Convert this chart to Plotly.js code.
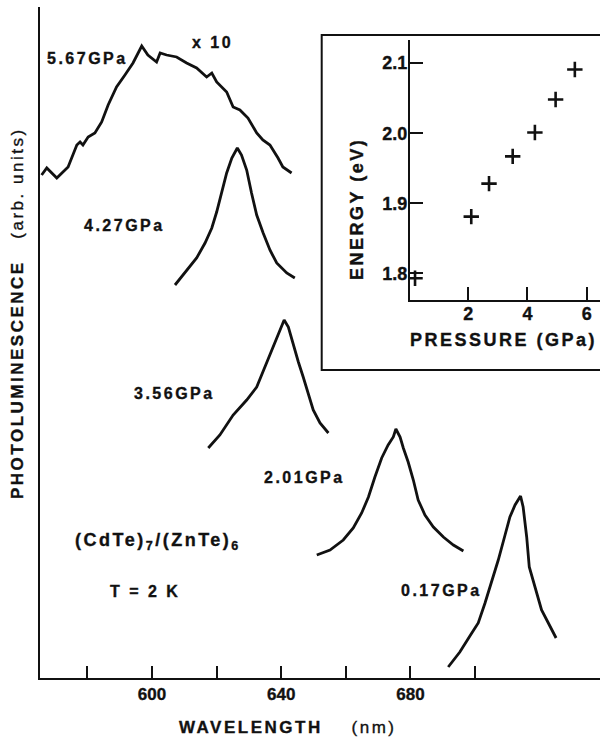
<!DOCTYPE html>
<html>
<head>
<meta charset="utf-8">
<script src="https://cdn.plot.ly/plotly-3.0.1.min.js"></script>
<style>
  body { margin: 0; padding: 0; background: #fff; }
  #chart { width: 600px; height: 742px; }
  .annotation-text { letter-spacing: 2.5px; stroke: #111; stroke-width: 0.35px; }
  .xtick text, .x2tick text, .y2tick text { stroke: #111; stroke-width: 0.35px; }
</style>
</head>
<body>
<div id="chart"></div>
<script>
// ---- Main spectra (wavelength in nm, photoluminescence in arb. units) ----
const wl567 = [565.8,567.4,570.5,572.4,574.0,576.7,577.7,578.6,580.2,582.3,584.4,586.4,589.0,591.6,594.1,596.8,598.7,601.4,602.5,604.5,607.6,610.7,613.8,616.9,618.5,620.0,623.1,625.1,627.2,629.7,632.4,634.3,636.5,639.0,640.5,643.2];
const pl567 = [503,510,500,506,511,533,536,533,541,545,556,573,591,603,615,632,623,616,625,623,621,615,610,601,605,596,586,571,568,560,545,538,533,520,511,505];

const wl427 = [607.1,610.2,613.8,616.4,618.5,620.0,621.6,623.1,624.7,626.4,627.7,629.3,630.8,632.4,634.4,636.5,638.6,641.7,644.2];
const pl427 = [393,405,420,435,450,466,485,505,520,530,523,508,485,463,445,428,415,405,400];

const wl356 = [617.4,621.0,625.1,629.3,632.4,633.9,636.0,638.1,639.6,640.9,642.2,643.7,645.3,646.8,648.4,649.9,652.0,654.6];
const pl356 = [230,243,263,278,291,303,318,335,348,358,351,333,316,301,285,268,255,245];

const wl201 = [651.0,655.1,659.2,662.3,664.9,667.0,669.0,671.1,673.1,674.7,675.5,676.8,677.8,679.3,680.9,682.4,684.5,687.1,690.2,693.3,696.4];
const pl201 = [123,128,138,150,165,181,201,220,233,241,249,241,230,216,198,178,163,151,141,133,127];

const wl017 = [691.7,695.3,699.0,701.0,703.1,705.1,707.2,709.3,710.8,712.4,714.1,714.9,716.0,716.8,718.5,720.6,722.7,725.1];
const pl017 = [11,26,45,55,75,95,118,143,161,173,182,171,141,111,91,68,55,40];

// ---- Inset: peak energy vs pressure ----
const pressure = [0.2, 2.1, 2.7, 3.5, 4.25, 4.95, 5.6];
const energy   = [1.793, 1.881, 1.928, 1.967, 2.001, 2.048, 2.091];

// ---- Tick labels ----
const xTickVals = [600, 640, 680];
const xTickText = ['600', '640', '680'];
const xMinorVals = [580, 620, 660, 700];
const insetXTickVals = [2, 4, 6];
const insetXTickText = ['2', '4', '6'];
const insetYTickVals = [1.8, 1.9, 2.0, 2.1];
const insetYTickText = ['1.8', '1.9', '2.0', '2.1'];

// ---- Text labels ----
const pressureLabels = ['5.67GPa', '4.27GPa', '3.56GPa', '2.01GPa', '0.17GPa'];

const FONT = 'Liberation Sans, Arial, Helvetica, sans-serif';
const INK = '#111';

// helpers to place text in paper coords from the figure frame (plot area: x 40..600, y 7..678)
const PX = x => (x - 40) / 560;
const PY = y => (678 - y) / 671;

const lineStyle = { color: INK, width: 2.8, shape: 'linear' };
function spectrum(x, y) {
  return { x: x, y: y, type: 'scatter', mode: 'lines', line: lineStyle, hoverinfo: 'skip', xaxis: 'x', yaxis: 'y' };
}

const traces = [
  spectrum(wl567, pl567),
  spectrum(wl427, pl427),
  spectrum(wl356, pl356),
  spectrum(wl201, pl201),
  spectrum(wl017, pl017),
  {
    x: pressure, y: energy, type: 'scatter', mode: 'markers',
    marker: { symbol: 'cross-thin', size: 11, line: { color: INK, width: 2.6 } },
    xaxis: 'x2', yaxis: 'y2', hoverinfo: 'skip'
  }
];

const boldFont = (s) => ({ family: FONT, size: s, color: INK, weight: 700 });

function ann(text, x, y, xanchor, size, extra) {
  return Object.assign({
    text: text, xref: 'paper', yref: 'paper', x: PX(x), y: PY(y),
    xanchor: xanchor, yanchor: 'middle', showarrow: false, font: boldFont(size)
  }, extra || {});
}

const annotations = [
  ann(pressureLabels[0], 45, 59, 'left', 16),
  ann('x 10', 190, 42.5, 'left', 16),
  ann(pressureLabels[1], 81.7, 225.7, 'left', 16),
  ann(pressureLabels[2], 217, 393, 'right', 16),
  ann(pressureLabels[3], 261.7, 478, 'left', 16),
  ann(pressureLabels[4], 399, 590, 'left', 16),
  ann('(CdTe)<sub>7</sub>/(ZnTe)<sub>6</sub>', 73, 541, 'left', 18, { font: { family: FONT, size: 18, color: INK, weight: 600 } }),
  ann('T = 2 K', 108, 591, 'left', 16),
  // main axis titles
  ann('<b>WAVELENGTH</b>\u00a0\u00a0\u00a0\u00a0(nm)', 177, 727, 'left', 17, { font: { family: FONT, size: 17, color: INK, weight: 400 } }),
  ann('<b>PHOTOLUMINESCENCE</b>\u00a0\u00a0\u00a0(arb. units)', 17, 313, 'center', 17, { textangle: -90, xanchor: 'center', font: { family: FONT, size: 17, color: INK, weight: 400 } }),
  // inset axis titles
  ann('ENERGY (eV)', 357, 209, 'center', 18, { textangle: -90 }),
  ann('PRESSURE (GPa)', 503, 340, 'center', 18)
];

const layout = {
  width: 600, height: 742,
  margin: { l: 40, r: 0, t: 7, b: 64 },
  paper_bgcolor: '#fff', plot_bgcolor: 'rgba(0,0,0,0)',
  showlegend: false,
  font: { family: FONT, color: INK },
  xaxis: {
    range: [565.3, 738.7], domain: [0, 1],
    showgrid: false, zeroline: false,
    showline: true, linecolor: INK, linewidth: 2,
    ticks: 'inside', ticklen: 12, tickwidth: 2, tickcolor: INK,
    tickmode: 'array', tickvals: xTickVals, ticktext: xTickText,
    minor: { tickmode: 'array', tickvals: xMinorVals, ticks: 'inside', ticklen: 12, tickwidth: 2, tickcolor: INK, showgrid: false },
    tickfont: boldFont(17)
  },
  yaxis: {
    range: [0, 671], domain: [0, 1],
    showgrid: false, zeroline: false,
    showline: true, linecolor: INK, linewidth: 2,
    ticks: '', showticklabels: false
  },
  xaxis2: {
    anchor: 'y2', domain: [PX(410), 1], range: [0.03, 6.45],
    showgrid: false, zeroline: false,
    showline: true, linecolor: INK, linewidth: 2,
    ticks: 'inside', ticklen: 13, tickwidth: 2, tickcolor: INK,
    tickmode: 'array', tickvals: insetXTickVals, ticktext: insetXTickText,
    tickfont: boldFont(18), ticklabelstandoff: -4
  },
  yaxis2: {
    anchor: 'x2', domain: [PY(300), PY(40)], range: [1.762, 2.133],
    showgrid: false, zeroline: false,
    showline: true, linecolor: INK, linewidth: 2,
    ticks: 'inside', ticklen: 13, tickwidth: 2, tickcolor: INK,
    tickmode: 'array', tickvals: insetYTickVals, ticktext: insetYTickText,
    tickfont: boldFont(18), ticklabelstandoff: -3
  },
  shapes: [
    { type: 'rect', xref: 'paper', yref: 'paper', x0: PX(321.7), x1: 1.08, y0: PY(370), y1: PY(35),
      line: { color: INK, width: 2 }, fillcolor: 'rgba(0,0,0,0)' }
  ],
  annotations: annotations
};

Plotly.newPlot('chart', traces, layout, { staticPlot: true, displayModeBar: false });
</script>
</body>
</html>
